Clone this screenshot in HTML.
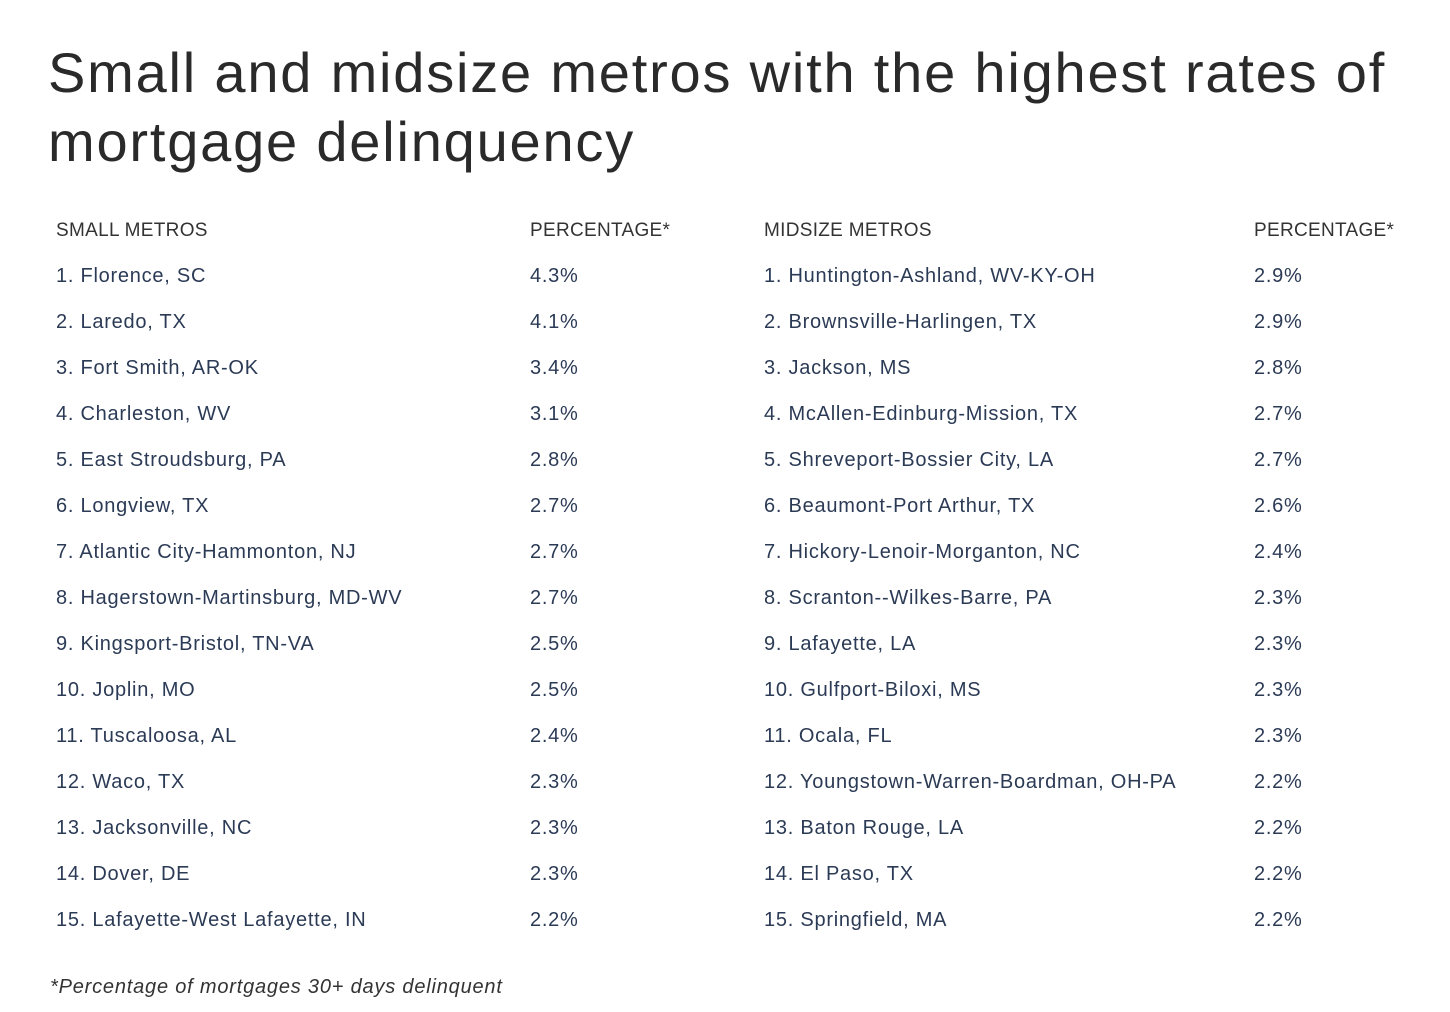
<!DOCTYPE html>
<html><head><meta charset="utf-8"><style>
body{margin:0;width:1450px;height:1012px;background:#fff;font-family:"Liberation Sans",sans-serif;position:relative;overflow:hidden}
h1{position:absolute;left:48px;top:38px;margin:0;font-weight:400;font-size:56px;letter-spacing:1.8px;line-height:69px;color:#2a2a2a;width:1420px}
.c{position:absolute;font-size:20px;letter-spacing:0.75px;color:#2b3a55;white-space:nowrap;line-height:24px}
.h{color:#333;letter-spacing:0.3px;font-size:19px}
.f{position:absolute;left:50px;top:976px;font-size:20px;letter-spacing:0.8px;font-style:italic;color:#333}
</style></head><body>
<h1>Small and midsize metros with the highest rates of<br>mortgage delinquency</h1>
<div id="t"></div>
<div class="f">*Percentage of mortgages 30+ days delinquent</div>
<script>
var s=[["Florence, SC","4.3%"],["Laredo, TX","4.1%"],["Fort Smith, AR-OK","3.4%"],["Charleston, WV","3.1%"],["East Stroudsburg, PA","2.8%"],["Longview, TX","2.7%"],["Atlantic City-Hammonton, NJ","2.7%"],["Hagerstown-Martinsburg, MD-WV","2.7%"],["Kingsport-Bristol, TN-VA","2.5%"],["Joplin, MO","2.5%"],["Tuscaloosa, AL","2.4%"],["Waco, TX","2.3%"],["Jacksonville, NC","2.3%"],["Dover, DE","2.3%"],["Lafayette-West Lafayette, IN","2.2%"]];
var m=[["Huntington-Ashland, WV-KY-OH","2.9%"],["Brownsville-Harlingen, TX","2.9%"],["Jackson, MS","2.8%"],["McAllen-Edinburg-Mission, TX","2.7%"],["Shreveport-Bossier City, LA","2.7%"],["Beaumont-Port Arthur, TX","2.6%"],["Hickory-Lenoir-Morganton, NC","2.4%"],["Scranton--Wilkes-Barre, PA","2.3%"],["Lafayette, LA","2.3%"],["Gulfport-Biloxi, MS","2.3%"],["Ocala, FL","2.3%"],["Youngstown-Warren-Boardman, OH-PA","2.2%"],["Baton Rouge, LA","2.2%"],["El Paso, TX","2.2%"],["Springfield, MA","2.2%"]];
var h="";
function d(x,y,t,c){h+='<div class="c '+(c||"")+'" style="left:'+x+'px;top:'+(y-11)+'px">'+t+'</div>';}
d(56,230,"SMALL METROS","h");d(530,230,"PERCENTAGE*","h");d(764,230,"MIDSIZE METROS","h");d(1254,230,"PERCENTAGE*","h");
for(var i=0;i<15;i++){var y=275+46*i;d(56,y,(i+1)+". "+s[i][0]);d(530,y,s[i][1]);d(764,y,(i+1)+". "+m[i][0]);d(1254,y,m[i][1]);}
document.getElementById("t").innerHTML=h;
</script>
</body></html>
